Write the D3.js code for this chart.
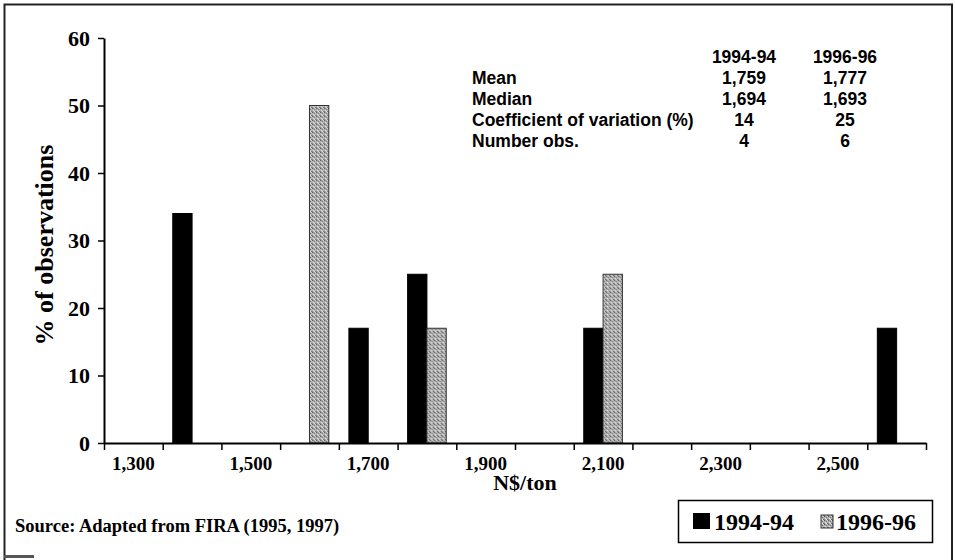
<!DOCTYPE html>
<html lang="en">
<head>
  <meta charset="UTF-8">
  <title>N$/ton distribution</title>
  <style>
    body { margin: 0; background: #fff; }
    .serif { font-family: "Liberation Serif", "Times New Roman", serif; font-weight: bold; }
    .sans { font-family: "Liberation Sans", Arial, sans-serif; font-weight: bold; }
  </style>
</head>
<body>
<div class="chart"></div>
<script src="https://cdn.jsdelivr.net/npm/d3@7/dist/d3.min.js"></script>
<script>
  // categories on the x axis (N$/ton) and the two series (% of observations)
  const categories = [1300, 1400, 1500, 1600, 1700, 1800, 1900, 2000, 2100, 2200, 2300, 2400, 2500, 2600];
  const seriesNames = ["1994-94", "1996-96"];
  const values9494 = [0, 34, 0, 0, 17, 25, 0, 0, 17, 0, 0, 0, 0, 17];
  const values9696 = [0, 0, 0, 50, 0, 17, 0, 0, 25, 0, 0, 0, 0, 0];
  const yTicks = [0, 10, 20, 30, 40, 50, 60];

  // summary table
  const statLabels = ["Mean", "Median", "Coefficient of variation (%)", "Number obs."];
  const stats9494 = ["1,759", "1,694", "14", "4"];
  const stats9696 = ["1,777", "1,693", "25", "6"];

  function drawChart() {
    const width = 955, height = 560;
    const plotLeft = 104, plotRight = 926, plotTop = 38, plotBottom = 443;

    const svg = d3.select(".chart").append("svg")
      .attr("width", width)
      .attr("height", height);

    // speckled grey fill for the second series
    const defs = svg.append("defs");
    const pat = defs.append("pattern")
      .attr("id", "speckle")
      .attr("patternUnits", "userSpaceOnUse")
      .attr("width", 4).attr("height", 4);
    pat.append("rect").attr("width", 4).attr("height", 4).attr("fill", "#b0b0b0");
    [[0, 0, "#555"], [2, 1, "#777"], [1, 2, "#e8e8e8"], [3, 3, "#666"], [3, 0, "#d8d8d8"], [0, 3, "#888"], [2, 3, "#eee"], [1, 0, "#999"]]
      .forEach(p => pat.append("rect").attr("x", p[0]).attr("y", p[1]).attr("width", 1).attr("height", 1).attr("fill", p[2]));

    // frame
    const frame = svg.append("g").attr("stroke", "#222").attr("stroke-width", 2).attr("fill", "none");
    frame.append("path").attr("d", `M4.5,560 V4.5 H952 V560`);
    frame.append("path").attr("d", `M4,556.5 H34`).attr("stroke-width", 3).attr("stroke", "#555");

    const x = d3.scaleBand()
      .domain(categories)
      .range([plotLeft, plotRight])
      .padding(0);

    const xSub = d3.scaleBand()
      .domain(seriesNames)
      .range([0, x.bandwidth()])
      .paddingInner(0)
      .paddingOuter(0.52);

    const y = d3.scaleLinear()
      .domain([0, 60])
      .range([plotBottom, plotTop]);

    // bars
    const rows = categories.map((c, i) => ({ cat: c, vals: [values9494[i], values9696[i]] }));
    const groups = svg.append("g")
      .selectAll("g")
      .data(rows)
      .enter()
      .append("g")
      .attr("transform", d => `translate(${x(d.cat)},0)`);

    groups.selectAll("rect")
      .data(d => d.vals.map((v, j) => ({ name: seriesNames[j], v })).filter(d => d.v > 0))
      .enter()
      .append("rect")
      .attr("x", d => xSub(d.name))
      .attr("y", d => y(d.v))
      .attr("width", xSub.bandwidth())
      .attr("height", d => plotBottom - y(d.v))
      .attr("fill", d => d.name === seriesNames[0] ? "#000" : "url(#speckle)")
      .attr("stroke", d => d.name === seriesNames[0] ? "#000" : "#333")
      .attr("stroke-width", 1);

    // y axis
    const yAxis = svg.append("g")
      .attr("transform", `translate(${plotLeft},0)`)
      .call(d3.axisLeft(y).tickValues(yTicks).tickSize(6).tickSizeOuter(0).tickPadding(8));
    yAxis.select(".domain").attr("stroke-width", 2);
    yAxis.selectAll(".tick line").attr("stroke-width", 1.5);
    yAxis.selectAll(".tick text")
      .attr("class", "serif")
      .attr("font-size", 22)
      .attr("fill", "#000");

    // x axis: labels on every other category
    const xAxis = svg.append("g")
      .attr("transform", `translate(0,${plotBottom})`)
      .call(d3.axisBottom(x).tickSize(0).tickPadding(14)
        .tickFormat((d, i) => i % 2 === 0 ? d3.format(",")(d) : ""));
    xAxis.select(".domain").attr("stroke-width", 2);
    xAxis.selectAll(".tick text")
      .attr("class", "serif")
      .attr("font-size", 19)
      .attr("fill", "#000");

    // tick marks on the category boundaries
    const edge = d3.scaleLinear().domain([0, categories.length]).range([plotLeft, plotRight]);
    const edgeAxis = svg.append("g")
      .attr("transform", `translate(0,${plotBottom})`)
      .call(d3.axisBottom(edge).tickValues(d3.range(0, categories.length + 1)).tickSize(7).tickFormat(""));
    edgeAxis.select(".domain").remove();
    edgeAxis.selectAll(".tick line").attr("stroke-width", 1.5);

    // axis titles
    svg.append("text")
      .attr("class", "serif")
      .attr("font-size", 26)
      .attr("text-anchor", "middle")
      .attr("transform", `translate(53,245) rotate(-90)`)
      .text("% of observations");

    svg.append("text")
      .attr("class", "serif")
      .attr("font-size", 22)
      .attr("text-anchor", "middle")
      .attr("x", 525)
      .attr("y", 490)
      .text("N$/ton");

    svg.append("text")
      .attr("class", "serif")
      .attr("font-size", 18.5)
      .attr("x", 15)
      .attr("y", 532)
      .text("Source: Adapted from FIRA (1995, 1997)");

    // summary table
    const table = svg.append("g").attr("class", "sans").attr("font-size", 17.5);
    const col1 = 744, col2 = 845, rowY = 63, rowStep = 21;
    table.append("text").attr("x", col1).attr("y", rowY).attr("text-anchor", "middle").text(seriesNames[0]);
    table.append("text").attr("x", col2).attr("y", rowY).attr("text-anchor", "middle").text(seriesNames[1]);
    statLabels.forEach((lab, i) => {
      const yy = rowY + rowStep * (i + 1);
      table.append("text").attr("x", 472).attr("y", yy).text(lab);
      table.append("text").attr("x", col1).attr("y", yy).attr("text-anchor", "middle").text(stats9494[i]);
      table.append("text").attr("x", col2).attr("y", yy).attr("text-anchor", "middle").text(stats9696[i]);
    });

    // legend
    const legend = svg.append("g");
    legend.append("rect")
      .attr("x", 678.5).attr("y", 500.5)
      .attr("width", 254).attr("height", 42)
      .attr("fill", "#fff").attr("stroke", "#000").attr("stroke-width", 1.5);
    legend.append("rect").attr("x", 693).attr("y", 513).attr("width", 17).attr("height", 16).attr("fill", "#000");
    legend.append("text").attr("class", "serif").attr("font-size", 24).attr("x", 714).attr("y", 530).text(seriesNames[0]);
    legend.append("rect").attr("x", 821).attr("y", 515).attr("width", 12).attr("height", 13)
      .attr("fill", "url(#speckle)").attr("stroke", "#333").attr("stroke-width", 1);
    legend.append("text").attr("class", "serif").attr("font-size", 24).attr("x", 836).attr("y", 530).text(seriesNames[1]);
  }

  drawChart();
</script>
</body>
</html>
